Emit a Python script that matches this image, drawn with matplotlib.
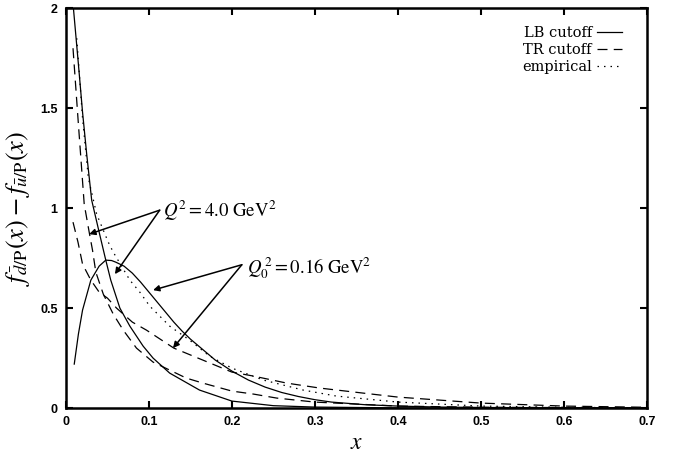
import numpy as np
import matplotlib
matplotlib.use('Agg')
from matplotlib import pyplot as plt
from matplotlib.lines import Line2D

plt.rcParams['mathtext.fontset'] = 'stix'

# curves
# LB cutoff, Q0^2 = 0.16 GeV^2 (peaked)
lb_q0_x = [0.01, 0.015, 0.02, 0.03, 0.04, 0.048, 0.055, 0.06, 0.07, 0.08, 0.09, 0.1, 0.11, 0.12, 0.13, 0.14, 0.15, 0.16, 0.17, 0.18, 0.2, 0.22, 0.24, 0.26, 0.28, 0.3, 0.32, 0.36, 0.4, 0.45, 0.5, 0.6, 0.7]
lb_q0_y = [0.22, 0.37, 0.49, 0.64, 0.71, 0.74, 0.738, 0.73, 0.71, 0.675, 0.63, 0.58, 0.53, 0.48, 0.43, 0.385, 0.345, 0.31, 0.275, 0.24, 0.185, 0.14, 0.105, 0.078, 0.058, 0.042, 0.03, 0.017, 0.01, 0.005, 0.003, 0.001, 0.0]

# LB cutoff, Q^2 = 4.0 GeV^2
lb_q4_x = [0.009, 0.015, 0.02, 0.025, 0.031, 0.04, 0.048, 0.054, 0.065, 0.077, 0.093, 0.105, 0.125, 0.161, 0.2, 0.25, 0.3, 0.4, 0.5, 0.7]
lb_q4_y = [2.0, 1.72, 1.48, 1.27, 1.04, 0.88, 0.74, 0.64, 0.50, 0.41, 0.31, 0.25, 0.175, 0.09, 0.035, 0.012, 0.005, 0.001, 0.0, 0.0]

# TR cutoff, Q0^2
tr_q0_x = [0.0085, 0.0145, 0.02, 0.03, 0.04, 0.05, 0.061, 0.08, 0.097, 0.13, 0.2, 0.226, 0.266, 0.306, 0.358, 0.4, 0.5, 0.6, 0.7]
tr_q0_y = [0.93, 0.83, 0.72, 0.64, 0.58, 0.55, 0.50, 0.43, 0.39, 0.30, 0.18, 0.16, 0.125, 0.10, 0.075, 0.055, 0.025, 0.01, 0.004]

# TR cutoff, Q^2 = 4.0
tr_q4_x = [0.0085, 0.015, 0.022, 0.028, 0.032, 0.036, 0.045, 0.057, 0.069, 0.085, 0.105, 0.145, 0.165, 0.2, 0.226, 0.254, 0.3, 0.4, 0.5, 0.7]
tr_q4_y = [1.8, 1.42, 1.02, 0.88, 0.79, 0.68, 0.57, 0.47, 0.39, 0.30, 0.23, 0.15, 0.125, 0.085, 0.07, 0.05, 0.03, 0.01, 0.004, 0.001]

# empirical
emp_x = [0.013, 0.02, 0.027, 0.037, 0.051, 0.057, 0.077, 0.089, 0.101, 0.125, 0.149, 0.173, 0.2, 0.238, 0.286, 0.326, 0.4, 0.5, 0.6, 0.7]
emp_y = [1.85, 1.45, 1.15, 0.97, 0.83, 0.78, 0.64, 0.58, 0.51, 0.41, 0.34, 0.26, 0.20, 0.14, 0.09, 0.06, 0.03, 0.01, 0.004, 0.001]

x_ticks = [0, 0.1, 0.2, 0.3, 0.4, 0.5, 0.6, 0.7]
y_ticks = [0, 0.5, 1, 1.5, 2]
y_ticklabels = ['0', '0.5', '1', '1.5', '2']

fig = plt.figure(figsize=(6.73, 4.58), dpi=100)
ax = fig.add_axes([0.098, 0.109, 0.863, 0.873])

lw = 0.9
ax.plot(lb_q0_x, lb_q0_y, 'k-', lw=lw)
ax.plot(lb_q4_x, lb_q4_y, 'k-', lw=lw)
ax.plot(tr_q0_x, tr_q0_y, 'k', lw=lw, dashes=(8, 5))
ax.plot(tr_q4_x, tr_q4_y, 'k', lw=lw, dashes=(8, 5))
ax.plot(emp_x, emp_y, 'k', lw=lw, dashes=(1.2, 4))

ax.set_xlim(0, 0.7)
ax.set_ylim(0, 2)
ax.set_xticks(x_ticks)
ax.set_xticklabels([('%g' % t) for t in x_ticks])
ax.set_yticks(y_ticks)
ax.set_yticklabels(y_ticklabels)
ax.tick_params(direction='in', top=True, right=True, length=5, width=1.5, labelsize=9, pad=6)
for lab in ax.get_xticklabels() + ax.get_yticklabels():
    lab.set_fontfamily('Liberation Sans')
    lab.set_fontweight('bold')
for s in ax.spines.values():
    s.set_linewidth(1.8)

ax.set_xlabel('$x$', fontsize=17, labelpad=1)
ax.set_ylabel(r'$f_{\bar{d}/\mathrm{P}}(x) - f_{\bar{u}/\mathrm{P}}(x)$', fontsize=19, labelpad=6)

# legend, text left of the line sample
handles = [Line2D([], [], color='k', lw=lw),
           Line2D([], [], color='k', lw=lw, dashes=(8, 5)),
           Line2D([], [], color='k', lw=lw, dashes=(1.2, 4))]
leg = ax.legend(handles, ['LB cutoff', 'TR cutoff', 'empirical'], loc='upper right',
                bbox_to_anchor=(0.957, 0.955), frameon=False, markerfirst=False,
                borderaxespad=0, borderpad=0,
                handlelength=1.7, handletextpad=0.35, labelspacing=0.2,
                prop={'family': 'DejaVu Serif', 'size': 10.5})
for t in leg.get_texts():
    t.set_ha('right')

# annotations
aprops = dict(arrowstyle='-|>', color='k', lw=1.1, mutation_scale=9, shrinkA=0, shrinkB=0)
ax.text(0.117, 0.985, r'$Q^2 = 4.0\ \mathrm{GeV}^2$', fontsize=13.5, va='center', ha='left')
ax.annotate('', xy=(0.028, 0.87), xytext=(0.113, 0.99), arrowprops=aprops)
ax.annotate('', xy=(0.059, 0.67), xytext=(0.113, 0.99), arrowprops=aprops)

ax.text(0.218, 0.70, r'$Q_0^{\,2} = 0.16\ \mathrm{GeV}^2$', fontsize=13.5, va='center', ha='left')
ax.annotate('', xy=(0.105, 0.59), xytext=(0.212, 0.717), arrowprops=aprops)
ax.annotate('', xy=(0.129, 0.30), xytext=(0.212, 0.717), arrowprops=aprops)

fig.savefig('out.png', dpi=100)
